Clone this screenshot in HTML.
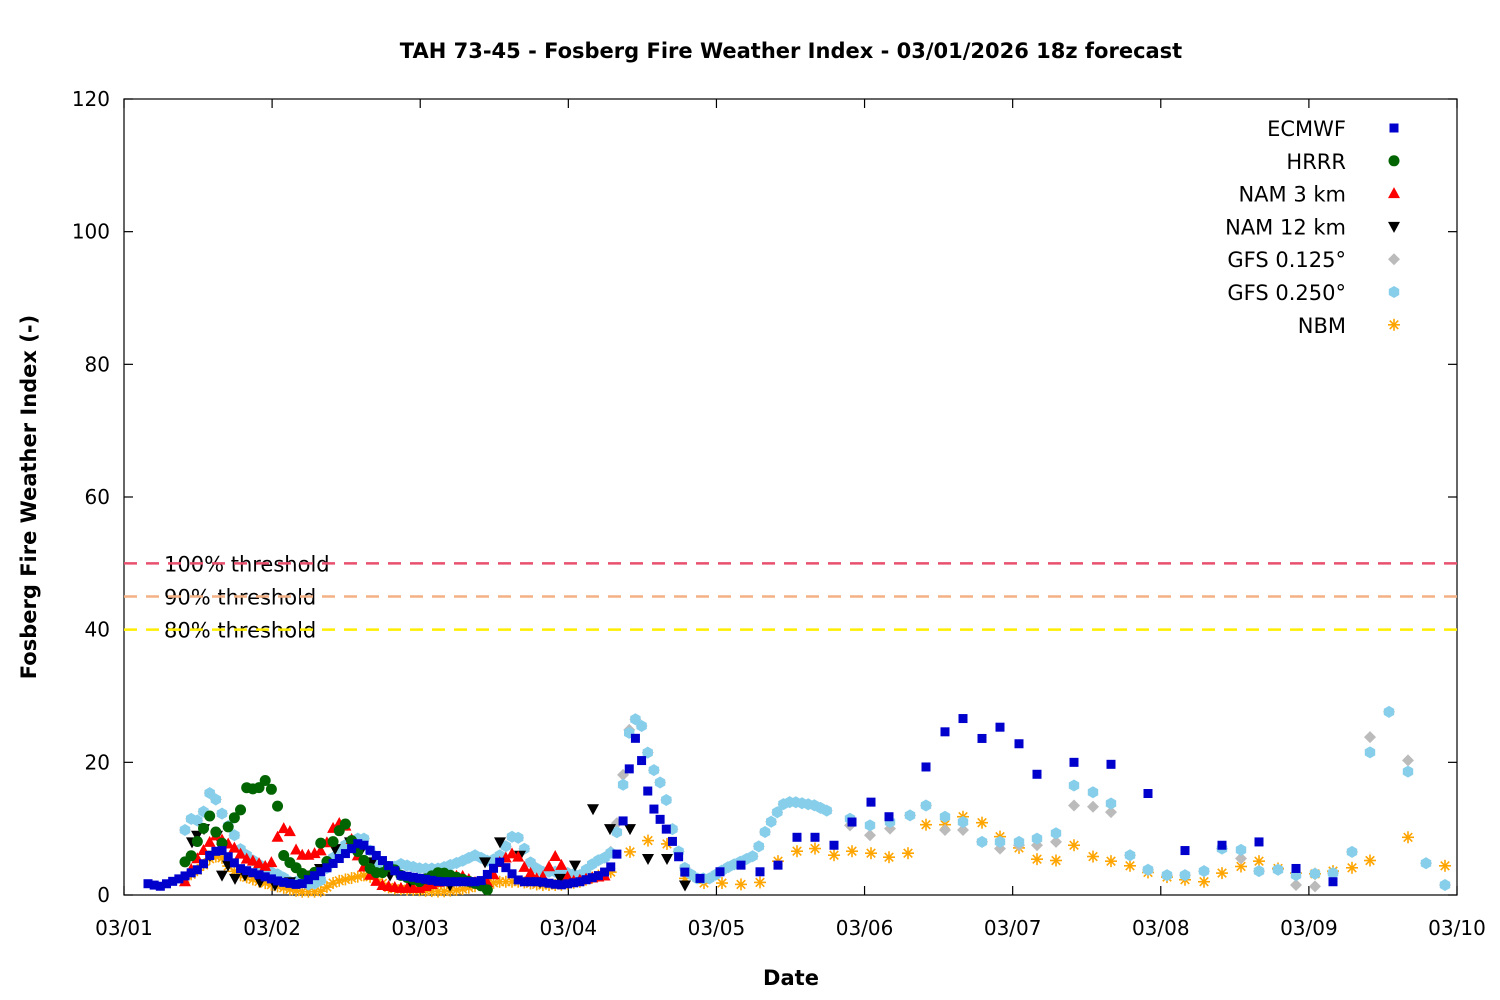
<!DOCTYPE html>
<html><head><meta charset="utf-8"><style>
html,body{margin:0;padding:0;background:#fff}
svg{display:block;font-family:"DejaVu Sans","Liberation Sans",sans-serif}
</style></head><body>
<svg id="s" width="1500" height="1000" xmlns="http://www.w3.org/2000/svg">
<rect width="1500" height="1000" fill="#fff"/>
<text x="791" y="58" font-size="21" font-weight="bold" text-anchor="middle">TAH 73-45 - Fosberg Fire Weather Index - 03/01/2026 18z forecast</text>
<text x="791" y="985" font-size="21" font-weight="bold" text-anchor="middle">Date</text>
<text transform="translate(36,497) rotate(-90)" font-size="21" font-weight="bold" text-anchor="middle">Fosberg Fire Weather Index (-)</text>
<g id="ax" stroke="#000" stroke-width="1.2" fill="none"><rect x="124" y="99" width="1333" height="796"/></g>
<g id="tl" font-size="20" fill="#000"></g>
<g id="th" font-size="21"></g>
<g id="pts"></g>
<g id="leg" font-size="21" text-anchor="end"></g>
</svg>
<script>
const NS="http://www.w3.org/2000/svg";
function el(p,t,a,txt){const e=document.createElementNS(NS,t);for(const k in a)e.setAttribute(k,a[k]);if(txt!==undefined)e.textContent=txt;p.appendChild(e);return e;}
const ax=document.getElementById('ax'),tl=document.getElementById('tl'),th=document.getElementById('th'),P=document.getElementById('pts'),L=document.getElementById('leg');
const Y=v=>895-v*796/120;
for(let v=0;v<=120;v+=20){const y=Y(v);
 el(ax,'line',{x1:124,y1:y,x2:133,y2:y});el(ax,'line',{x1:1448,y1:y,x2:1457,y2:y});
 el(tl,'text',{x:110,y:y+7,'text-anchor':'end'},String(v));}
for(let d=0;d<=9;d++){const x=124+d*1333/9;
 el(ax,'line',{x1:x,y1:895,x2:x,y2:886});el(ax,'line',{x1:x,y1:99,x2:x,y2:108});
 el(tl,'text',{x:x,y:935,'text-anchor':'middle'},'03/'+String(d+1).padStart(2,'0'));}
[[50,'#e8506e','100% threshold'],[45,'#f4b183','90% threshold'],[40,'#ffee00','80% threshold']].forEach(([v,c,t])=>{
 el(th,'text',{x:164,y:Y(v)+8},t);
 el(th,'line',{x1:124,y1:Y(v),x2:1457,y2:Y(v),stroke:c,'stroke-width':2.5,'stroke-dasharray':'13,9'});
});
function mk(g,type,x,y){
 if(type==0)el(g,'rect',{x:x-4.5,y:y-4.5,width:9,height:9,fill:'#0000cc'});
 else if(type==1)el(g,'circle',{cx:x,cy:y,r:5.5,fill:'#006400'});
 else if(type==2)el(g,'polygon',{points:`${x},${y-6.5} ${x-6},${y+4.5} ${x+6},${y+4.5}`,fill:'#ff0000'});
 else if(type==3)el(g,'polygon',{points:`${x},${y+6.5} ${x-6},${y-4.5} ${x+6},${y-4.5}`,fill:'#000'});
 else if(type==4)el(g,'polygon',{points:`${x},${y-6} ${x+6},${y} ${x},${y+6} ${x-6},${y}`,fill:'#bbbbbb'});
 else if(type==5){let p=[];for(let i=0;i<6;i++){const a=Math.PI/3*i+Math.PI/6;p.push((x+6*Math.cos(a)).toFixed(1)+','+(y+6*Math.sin(a)).toFixed(1));}el(g,'polygon',{points:p.join(' '),fill:'#87ceeb'});}
 else if(type==6){for(let i=0;i<4;i++){const a=Math.PI/4*i;el(g,'line',{x1:x-6*Math.cos(a),y1:y-6*Math.sin(a),x2:x+6*Math.cos(a),y2:y+6*Math.sin(a),stroke:'#ffa500','stroke-width':1.6});}}
}
function interp(k,x){for(let i=0;i<k.length-1;i++){if(x>=k[i][0]&&x<=k[i+1][0]){const t=(x-k[i][0])/(k[i+1][0]-k[i][0]);return k[i][1]+t*(k[i+1][1]-k[i][1]);}}return k[k.length-1][1];}
function series(type,k,denseUntil,step){
 const g=P;const dk=k.filter(p=>p[0]<=denseUntil);
 if(dk.length>1){for(let x=dk[0][0];x<=dk[dk.length-1][0]+0.01;x+=step){mk(g,type,x,Y(interp(dk,x)));}}
 k.filter(p=>p[0]>denseUntil).forEach(p=>mk(g,type,p[0],Y(p[1])));
}
const nbm=[[185,2.5],[200,4],[210,5.5],[220,6],[230,4],[240,3],[260,2],[280,1.2],[300,0.5],[320,0.5],[335,2],[350,2.5],[365,3],[375,2.5],[390,1],[420,0.7],[440,0.5],[460,0.8],[480,1.5],[500,2],[520,2],[540,1.5],[560,1.5],[580,2],[600,3],[612,3.5],[630,6.5],[648,8.2],[667,7.7],[685,2.5],[704,1.8],[722,1.8],[741,1.6],[760,1.9],[778,5.1],[797,6.6],[815,7],[834,6],[852,6.6],[871,6.3],[889,5.7],[908,6.3],[926,10.6],[945,10.6],[963,11.8],[982,10.9],[1000,8.8],[1019,7.1],[1037,5.4],[1056,5.2],[1074,7.5],[1093,5.8],[1111,5.1],[1130,4.4],[1148,3.4],[1167,2.7],[1185,2.3],[1204,2],[1222,3.3],[1241,4.3],[1259,5.1],[1278,4],[1296,3.3],[1315,3.2],[1333,3.6],[1352,4.1],[1370,5.2],[1408,8.7],[1445,4.4]];
const g25=[[185,9.8],[192,11.7],[200,11],[210,15.5],[218,14],[225,11],[233,9.5],[240,7],[250,5.5],[260,4.5],[270,3.5],[280,3],[290,2],[300,2],[310,1.5],[320,2],[330,5],[340,7],[355,8.5],[365,8.5],[375,5],[385,3.5],[400,4.7],[420,4],[440,4],[460,5],[475,6],[490,5],[500,6],[513,9],[520,8.5],[530,5],[540,3.5],[560,3.5],[580,3],[595,5],[610,6],[620,11],[626,22],[632,26.5],[640,26.5],[650,20],[660,17],[667,14],[675,8],[685,4],[695,2.5],[710,2.5],[725,4],[740,5],[755,6],[765,9.5],[775,12],[785,14],[795,14],[815,13.5],[830,12.5],[850,11.5],[870,10.5],[890,11],[910,12],[926,13.5],[945,11.8],[963,11],[982,8],[1000,8],[1019,8],[1037,8.5],[1056,9.3],[1074,16.5],[1093,15.5],[1111,13.8],[1130,6],[1148,3.8],[1167,3],[1185,3],[1204,3.6],[1222,7],[1241,6.8],[1259,3.6],[1278,3.8],[1296,3],[1315,3.2],[1333,3.3],[1352,6.5],[1370,21.5],[1389,27.6],[1408,18.6],[1426,4.8],[1445,1.5]];
const g125=g25.map(p=>[p[0],p[1]]);
const ov={945:9.8,963:9.8,1000:7,1019:7.5,1037:7.5,1056:8,1074:13.5,1093:13.3,1111:12.5,1241:5.5,1296:1.5,1315:1.3,1370:23.8,1408:20.3,870:9,850:10.5,890:10,620:13,626:23,650:20};
g125.forEach(p=>{if(ov[p[0]]!==undefined)p[1]=ov[p[0]];});
const ec=[[148,1.7],[160,1.3],[180,2.5],[200,4],[210,6],[220,7],[240,4],[260,3],[280,2],[300,1.5],[331,4.5],[360,8],[400,3],[440,2],[480,2],[500,5],[520,2],[540,2],[560,1.5],[580,2],[600,3],[610,4],[618,6.5],[624,12],[630,20],[636,24],[642,20],[648,15.5],[655,12.5],[662,11],[670,9],[678,6],[686,3],[700,2.5],[720,3.5],[741,4.5],[760,3.5],[778,4.5],[797,8.7],[815,8.7],[834,7.5],[852,11],[871,14],[889,11.8],[926,19.3],[945,24.6],[963,26.6],[982,23.6],[1000,25.3],[1019,22.8],[1037,18.2],[1074,20],[1111,19.7],[1148,15.3],[1185,6.7],[1222,7.5],[1259,8],[1296,4],[1333,2]];
const hr=[[185,5],[190,5.5],[200,9],[210,12],[215,10],[220,7],[230,11],[240,12.5],[246,16.2],[252,16],[258,16],[265,17.3],[272,15.8],[278,13.2],[284,5.6],[297,4],[306,2.7],[314,3],[321,8],[327,5],[335,9],[346,10.8],[352,8],[360,6],[370,4],[380,3],[390,4.5],[400,3],[420,2],[440,3.5],[460,2.5],[480,1.5],[490,0.5]];
const n3=[[185,2],[195,5],[205,7],[215,9],[225,8],[235,7],[245,5.5],[255,5],[270,4],[277,8.5],[281,10],[289,10],[295,7],[300,6],[310,6],[320,6.5],[330,8.5],[335,11],[345,10.5],[350,9],[360,5],[370,3],[380,1.5],[400,1],[420,1],[440,2],[460,3],[480,1.5],[490,2],[500,5],[515,6.5],[525,4],[540,2],[556,6],[570,2],[590,2.5],[610,3]];
const n12=[[192,8],[197,9],[204,10],[210,6],[217,9],[222,3],[228,4.5],[235,2.5],[245,3],[260,2],[275,1.5],[290,2],[305,3],[320,4],[335,7],[350,8],[362,7],[372,5],[390,3],[410,2],[430,1.5],[450,1.5],[470,2],[485,5],[500,8],[520,6],[540,2],[560,2.5],[575,4.5],[593,13],[610,10],[630,10],[648,5.5],[667,5.5],[685,1.5]];
series(6,nbm,612,6.17);
series(4,g125,840,6.17);
series(5,g25,840,6.17);
series(3,n12,0,6);
series(2,n3,610,6.17);
series(1,hr,490,6.17);
series(0,ec,690,6.17);
['ECMWF','HRRR','NAM 3 km','NAM 12 km','GFS 0.125°','GFS 0.250°','NBM'].forEach((t,i)=>{const y=128+i*32.8;el(L,'text',{x:1346,y:y+8},t);mk(L,i,1394,y);});
</script>
</body></html>
